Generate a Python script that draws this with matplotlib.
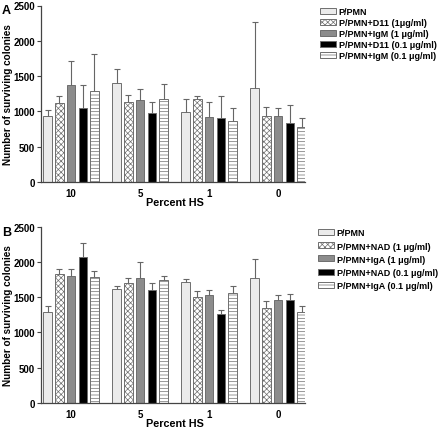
import numpy as np
import matplotlib
matplotlib.use("Agg")
import matplotlib.pyplot as plt

plt.rcParams["font.family"] = ["Liberation Sans", "DejaVu Sans"]
plt.rcParams["font.weight"] = "bold"
plt.rcParams["hatch.linewidth"] = 0.5

# ── Data ──────────────────────────────────────────────────────────────────────
groups = ["10", "5", "1", "0"]

labels_a = ["P/PMN", "P/PMN+D11 (1μg/ml)", "P/PMN+IgM (1 μg/ml)",
            "P/PMN+D11 (0.1 μg/ml)", "P/PMN+IgM (0.1 μg/ml)"]
means_a = [
    [930, 1398, 987, 1327],
    [1115, 1129, 1171, 930],
    [1370, 1161, 921, 930],
    [1053, 982, 902, 836],
    [1285, 1171, 860, 777],
]
err_a = [
    [85, 202, 193, 935],
    [107, 103, 51, 128],
    [340, 152, 212, 114],
    [317, 147, 320, 250],
    [523, 213, 193, 125],
]

labels_b = ["P/PMN", "P/PMN+NAD (1 μg/ml)", "P/PMN+IgA (1 μg/ml)",
            "P/PMN+NAD (0.1 μg/ml)", "P/PMN+IgA (0.1 μg/ml)"]
means_b = [
    [1286, 1613, 1716, 1773],
    [1834, 1702, 1499, 1343],
    [1797, 1768, 1532, 1461],
    [2066, 1603, 1258, 1461],
    [1783, 1740, 1560, 1286],
]
err_b = [
    [86, 47, 38, 265],
    [62, 75, 85, 104],
    [99, 227, 66, 66],
    [204, 95, 66, 80],
    [94, 57, 95, 86],
]

# ── Styles ────────────────────────────────────────────────────────────────────
faces = ["#ebebeb", "white", "#8c8c8c", "black", "white"]
hatches = [None, "xxxxxx", None, None, "-----"]
edge = "#6e6e6e"

W, H = 440, 431
fig = plt.figure(figsize=(W / 100, H / 100), dpi=100)


def panel(bottom_px, top_px, means, errs, labels, letter, leg_xy, leg_sp):
    ax = fig.add_axes([41 / W, 1 - bottom_px / H, (305 - 41) / W,
                       (bottom_px - top_px) / H])
    x = np.arange(len(groups))
    pitch, width = 0.17, 0.123
    for i in range(len(means)):
        xs = x + (i - 2) * pitch
        ax.bar(xs, means[i], width=width, color=faces[i], edgecolor=edge,
               hatch=hatches[i], linewidth=0.7, label=labels[i], zorder=2)
        _, caps, _ = ax.errorbar(xs, means[i], yerr=[np.zeros(len(x)), errs[i]],
                                 fmt="none", ecolor="#666666", elinewidth=0.8,
                                 capsize=2, capthick=0.8, zorder=3)
        caps[0].set_visible(False)
    ax.set_xlim(-0.435, 3.39)
    ax.set_ylim(0, 2500)
    ax.set_yticks([0, 500, 1000, 1500, 2000, 2500])
    ax.set_xticks(x)
    ax.set_xticklabels(groups)
    for s in ["top", "right"]:
        ax.spines[s].set_visible(False)
    for s in ["left", "bottom"]:
        ax.spines[s].set_color("#444444")
        ax.spines[s].set_linewidth(0.9)
    ax.tick_params(axis="y", labelsize=7, length=3, width=0.8, color="#444444", pad=1.5)
    ax.tick_params(axis="x", labelsize=7, length=0, pad=4)
    ax.set_ylabel("Number of surviving colonies", fontsize=7.2, fontweight="bold")
    ax.yaxis.set_label_coords(-28 / (305 - 41), 0.5)
    ax.set_xlabel("Percent HS", fontsize=7.8, fontweight="bold")
    ax.xaxis.set_label_coords((175 - 41) / (305 - 41), -15.5 / (bottom_px - top_px))
    fig.text(2 / W, 1 - (top_px + 5) / H, letter, fontsize=9, fontweight="bold",
             va="center", ha="left")
    ax.legend(loc="upper left", bbox_to_anchor=(leg_xy[0] / W, 1 - leg_xy[1] / H),
              bbox_transform=fig.transFigure, frameon=False, fontsize=6.5,
              borderpad=0, handlelength=1.8, handleheight=0.65,
              handletextpad=0.25, labelspacing=leg_sp, borderaxespad=0)
    return ax


panel(183, 6.5, means_a, err_a, labels_a, "A", (320, 8), 0.22)
panel(404, 227.7, means_b, err_b, labels_b, "B", (318, 229.5), 0.45)

plt.savefig("out.png", dpi=100)
